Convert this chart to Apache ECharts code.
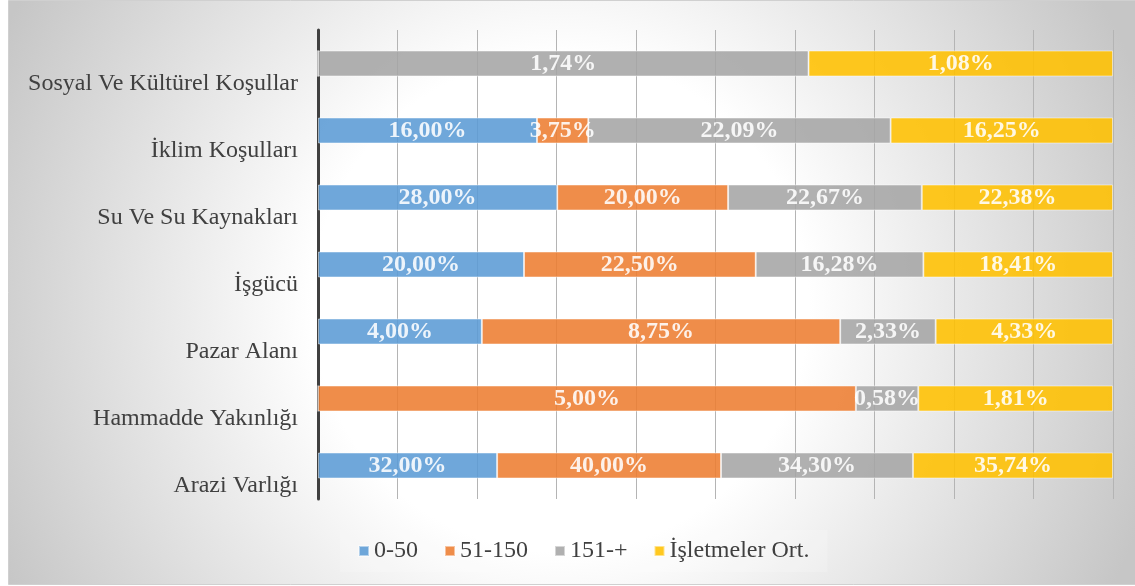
<!DOCTYPE html>
<html>
<head>
<meta charset="utf-8">
<script src="https://cdn.jsdelivr.net/npm/echarts@6/dist/echarts.min.js"></script>
<style>html,body{margin:0;padding:0;background:#fff;}#c{width:1135px;height:586px;}</style>
</head>
<body>
<div id="c"></div>
<script>
const categories = ['Arazi Varlığı','Hammadde Yakınlığı','Pazar Alanı','İşgücü','Su Ve Su Kaynakları','İklim Koşulları','Sosyal Ve Kültürel Koşullar'];
const seriesNames = ['0-50','51-150','151-+','İşletmeler Ort.'];
const s0_50 = [32.00, 0, 4.00, 20.00, 28.00, 16.00, 0];
const s51_150 = [40.00, 5.00, 8.75, 22.50, 20.00, 3.75, 0];
const s151 = [34.30, 0.58, 2.33, 16.28, 22.67, 22.09, 1.74];
const sOrt = [35.74, 1.81, 4.33, 18.41, 22.38, 16.25, 1.08];
const colors = ['#5B9BD5','#ED7D31','#A5A5A5','#FFC000'];

const all = [s0_50, s51_150, s151, sOrt];
const totals = categories.map((c,i)=>all.reduce((a,s)=>a+s[i],0));
const serif = '"Liberation Serif","Times New Roman",serif';

const chart = echarts.init(document.getElementById('c'), null, {renderer:'canvas'});
chart.setOption({
  animation:false,
  backgroundColor:'#ffffff',
  graphic:[{
    type:'rect', z:-10, silent:true,
    shape:{x:8.5,y:0.5,width:1127,height:584},
    style:{
      fill:{type:'radial',x:0.49,y:0.52,r:1.06,colorStops:[{offset:0,color:'#ffffff'},{offset:0.4,color:'#ffffff'},{offset:1,color:'#c6c6c6'}]},
      stroke:'#d0d0d0', lineWidth:1
    }
  }],
  grid:{left:318,right:22,top:30,bottom:87,containLabel:false},
  legend:{
    bottom:14, left:340,
    itemWidth:10, itemHeight:10, itemGap:26,
    icon:'rect',
    padding:[9,18],
    backgroundColor:'rgba(255,255,255,0.18)',
    textStyle:{fontFamily:serif,fontSize:24,color:'#404040'},
    data:seriesNames
  },
  xAxis:{
    type:'value', min:0, max:1, interval:0.1,
    axisLabel:{show:false},
    axisLine:{show:false},
    axisTick:{show:false},
    splitLine:{show:true,lineStyle:{color:'#b4b4b4',width:1}}
  },
  yAxis:{
    type:'category', data:categories,
    axisLine:{show:true,lineStyle:{color:'#404040',width:3}},
    axisTick:{show:false},
    axisLabel:{interval:0,hideOverlap:false,fontFamily:serif,fontSize:24,color:'#404040',margin:20,lineHeight:40,formatter:v=>'\n'+v}
  },
  series: all.map((arr,k)=>({
    name:seriesNames[k], type:'bar', stack:'t', barWidth:26,
    itemStyle:{color:colors[k],opacity:0.88,borderColor:'rgba(255,255,255,0.55)',borderWidth:1},
    label:{
      show:true, position:'inside', color:'#ffffff', fontFamily:serif, fontWeight:'bold', fontSize:24,
      formatter:p=>p.data.raw===0?'':p.data.raw.toFixed(2).replace('.',',')+'%'
    },
    data: arr.map((v,i)=>({value:v/totals[i], raw:v}))
  }))
});
</script>
</body>
</html>
